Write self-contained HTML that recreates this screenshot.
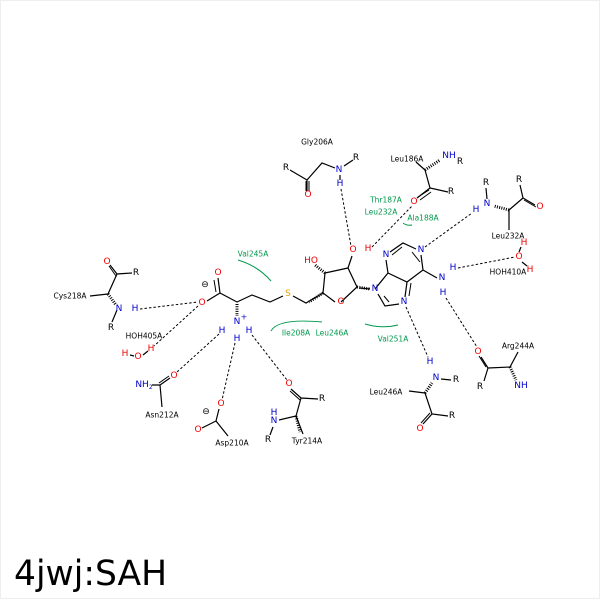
<!DOCTYPE html>
<html><head><style>
html,body{margin:0;padding:0;background:#fff}
svg{display:block}
text{font-family:"DejaVu Sans","Liberation Sans",sans-serif}
.a{font-size:9px;text-anchor:middle;dominant-baseline:central}
.l{font-size:7.5px;text-anchor:middle;dominant-baseline:central;fill:#000}
.g{font-size:7.5px;text-anchor:middle;dominant-baseline:central;fill:#00994c}
</style></head><body>
<svg width="600" height="600" viewBox="0 0 600 600" xmlns="http://www.w3.org/2000/svg">
<rect x="0.5" y="0.5" width="599" height="598" fill="#fff" stroke="#eee"/>
<g stroke="#000" stroke-width="1.2" fill="none">
<path d="M325,273 L348,268 L357,287 L341,302 M335,302 L323,293 L325,273"/>
<path d="M348,268 L352,256"/>
<path d="M323,293 L306,303 L293,296"/>
<path d="M283,296 L270,302 L252,295 L237,302 L220,293 L218,278"/>
<path d="M220,293 L207,301"/>
<path d="M375,289 L388,273 L386,260 M390,252 L403,243 L416,249 M421,255 L423,270 L407,282 L388,273 M407,282 L405,297 M399,304 L385,306 L378,294 M423,270 L437,278"/>
<path d="M360,288 L370,289"/>
<path d="M290,170 L307,180 L322,163 L335,168 M344,166 L353,160 M307,180 L307,191 M340,175 L340,180"/>
<path d="M425,170 L430,188 L448,192 M430,188 L417,198 M425,170 L416,162"/>
<path d="M486,188 L487,199 M509,210 L523,198 L520,185 M523,198 L535,205 M509,210 L509,230"/>
<path d="M108,294 L117,274 L132,273 M117,274 L110,265 M108,294 L90,296 M117,310 L112,322"/>
<path d="M130,355 L134,356 M143,355 L148,351"/>
<path d="M152,385 L160,385 L170,378 M160,385 L162,407"/>
<path d="M219,409 L216,421 L202,428 M216,421 L228,436"/>
<path d="M291,389 L301,398 L318,399 M301,398 L296,416 L279,420 M296,416 L303,434 M273,427 L270,435"/>
<path d="M441,379 L451,380 M425,393 L409,391 M425,393 L432,414 L448,416 M432,414 L423,424"/>
<path d="M481,357 L488,368 L484,381 M488,368 L510,367 L518,352"/>
<path d="M521,247 L519,252 M522,262 L527,266"/>
</g>
<g stroke="#000" stroke-width="1" fill="none">
<path d="M306,181 L306,191 M309,181 L309,191"/>
<path d="M429,190 L418,197 M431,192 L420,200"/>
<path d="M524,200 L536,207"/>
<path d="M116,276 L109,266"/>
<path d="M159,383 L169,376"/>
<path d="M300,400 L290,391"/>
<path d="M430,413 L421,423"/>
<path d="M486,367 L479,356"/>
<path d="M216,292 L214,280"/>
<path d="M392,255 L402,247 M412,252 L420,262 M411,283 L409,296 M389,302 L384,296"/>
</g>
<g stroke="#000" stroke-width="1" stroke-dasharray="1,1.3">
<path d="M237,304 L237,316" stroke-width="3"/>
<path d="M325,273 L315,265" stroke-width="3"/>
<path d="M323,293 L309,302" stroke-width="3"/>
<path d="M357,287 L370,289" stroke-width="3"/>
<path d="M425,170 L440,160" stroke-width="3"/>
<path d="M509,210 L494,206" stroke-width="3"/>
<path d="M296,416 L300,432" stroke-width="3"/>
<path d="M425,393 L432,383" stroke-width="3"/>
<path d="M510,367 L516,380" stroke-width="3"/>
<path d="M108,294 L116,305" stroke-width="3"/>
</g>
<g stroke="#000" stroke-width="1" stroke-dasharray="2.5,2" fill="none">
<path d="M140,309 L198,302"/>
<path d="M198,306 L154,346"/>
<path d="M219,334 L177,372"/>
<path d="M235,343 L222,400"/>
<path d="M252,335 L287,380"/>
<path d="M341,189 L351,246"/>
<path d="M372,247 L412,206"/>
<path d="M425,247 L472,213"/>
<path d="M458,268 L515,257"/>
<path d="M406,307 L428,357"/>
<path d="M446,298 L477,347"/>
</g>
<g stroke="#00994c" stroke-width="1" fill="none">
<path d="M238,260 Q258,266 271,281"/>
<path d="M271,331 Q278,318 322,322"/>
<path d="M365,324 Q382,329 398,325"/>
<path d="M403,223 Q407,226 412,225"/>
</g>
<g class="a">
<text x="353" y="250" fill="#e00">O</text><text x="368" y="249" fill="#e00">H</text>
<text x="311" y="261" fill="#e00">HO</text>
<text x="341" y="302" fill="#e00">O</text>
<text x="288" y="294" fill="#e8a000">S</text>
<text x="375" y="289" fill="#00c">N</text>
<text x="386" y="255" fill="#00c">N</text>
<text x="421" y="250" fill="#00c">N</text>
<text x="404" y="302" fill="#00c">N</text>
<text x="442" y="278" fill="#00c">N</text><text x="453" y="268" fill="#00c">H</text><text x="443" y="293" fill="#00c">H</text>
<text x="218" y="273" fill="#e00">O</text>
<text x="202" y="303" fill="#e00">O</text>
<text x="205" y="285">⊖</text>
<text x="237" y="322" fill="#00c">N</text><text x="244" y="317" fill="#00c" style="font-size:8px">+</text>
<text x="222" y="331" fill="#00c">H</text><text x="237" y="339" fill="#00c">H</text><text x="249" y="331" fill="#00c">H</text>
<text x="286" y="168">R</text><text x="308" y="195" fill="#e00">O</text>
<text x="339" y="170" fill="#00c">N</text><text x="356" y="158">R</text><text x="340" y="184" fill="#00c">H</text>
<text x="449" y="156" fill="#00c">NH</text><text x="460" y="162">R</text>
<text x="451" y="192">R</text><text x="414" y="202" fill="#e00">O</text>
<text x="486" y="183">R</text><text x="487" y="204" fill="#00c">N</text><text x="476" y="210" fill="#00c">H</text>
<text x="519" y="180">R</text><text x="540" y="207" fill="#e00">O</text>
<text x="524" y="243" fill="#e00">H</text><text x="519" y="257" fill="#e00">O</text><text x="530" y="270" fill="#e00">H</text>
<text x="107" y="262" fill="#e00">O</text><text x="136" y="273">R</text>
<text x="119" y="309" fill="#00c">N</text><text x="135" y="309" fill="#00c">H</text><text x="111" y="328">R</text>
<text x="125" y="354" fill="#e00">H</text><text x="138" y="357" fill="#e00">O</text><text x="151" y="349" fill="#e00">H</text>
<text x="144" y="385" fill="#00c">NH<tspan style="font-size:6px" dy="2">2</tspan></text>
<text x="174" y="376" fill="#e00">O</text>
<text x="221" y="404" fill="#e00">O</text><text x="206" y="412">⊖</text><text x="198" y="430" fill="#e00">O</text>
<text x="289" y="384" fill="#e00">O</text><text x="322" y="399">R</text>
<text x="274" y="413" fill="#00c">H</text><text x="274" y="421" fill="#00c">N</text><text x="268" y="440">R</text>
<text x="430" y="362" fill="#00c">H</text><text x="436" y="378" fill="#00c">N</text><text x="456" y="380">R</text>
<text x="452" y="416">R</text><text x="420" y="429" fill="#e00">O</text>
<text x="478" y="352" fill="#e00">O</text><text x="480" y="387">R</text><text x="521" y="386" fill="#00c">NH</text>
</g>
<g class="l">
<text x="317" y="142">Gly206A</text>
<text x="407" y="159">Leu186A</text>
<text x="508" y="236">Leu232A</text>
<text x="508" y="272">HOH410A</text>
<text x="70" y="296">Cys218A</text>
<text x="144" y="336">HOH405A</text>
<text x="162" y="415">Asn212A</text>
<text x="232" y="443">Asp210A</text>
<text x="307" y="441">Tyr214A</text>
<text x="386" y="392">Leu246A</text>
<text x="518" y="346">Arg244A</text>
</g>
<g class="g">
<text x="386" y="200">Thr187A</text>
<text x="381" y="212">Leu232A</text>
<text x="423" y="218">Ala188A</text>
<text x="253" y="254">Val245A</text>
<text x="296" y="333">Ile208A</text>
<text x="332" y="333">Leu246A</text>
<text x="393" y="339">Val251A</text>
</g>
<text x="14" y="585" style="font-size:34.5px" fill="#000">4jwj:SAH</text>
</svg>
</body></html>
